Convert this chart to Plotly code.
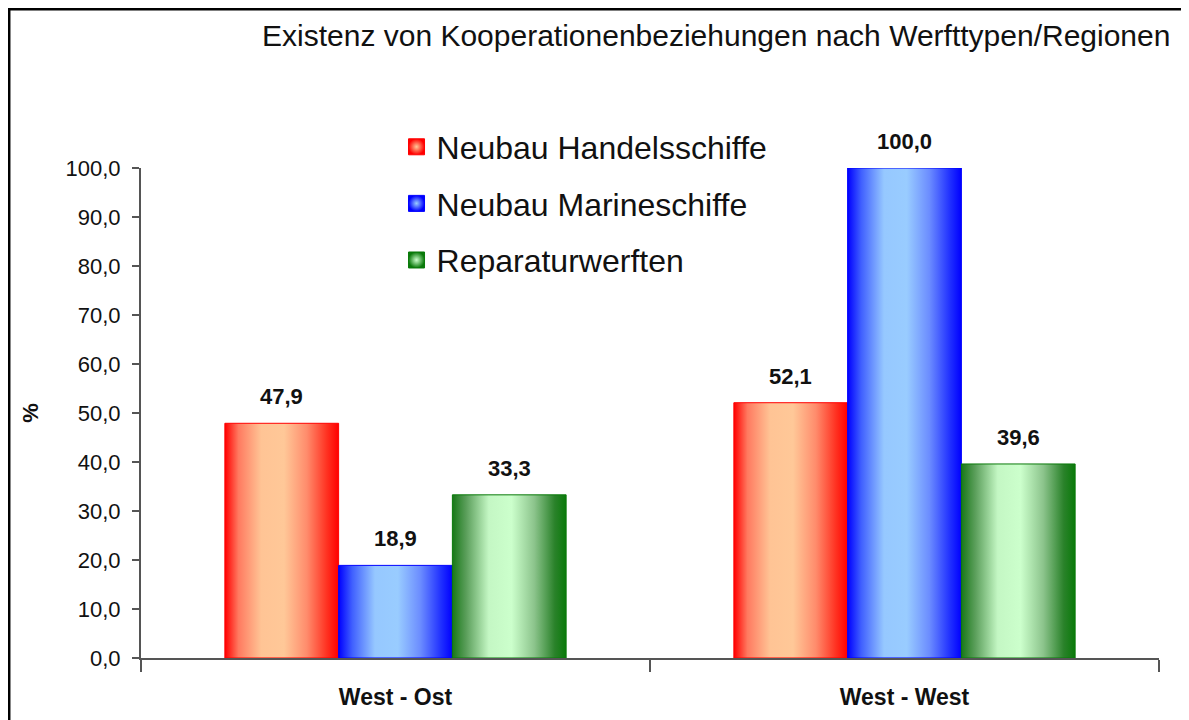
import plotly.graph_objects as go

categories = ["West - Ost", "West - West"]
series_names = ["Neubau Handelsschiffe", "Neubau Marineschiffe", "Reparaturwerften"]
handels = [47.9, 52.1]
marine = [18.9, 100.0]
reparatur = [33.3, 39.6]
values = [handels, marine, reparatur]
y_ticks = [0, 10, 20, 30, 40, 50, 60, 70, 80, 90, 100]

edge_colors = ["#ff0000", "#0000ff", "#0a7a0a"]
center_colors = ["#ffc898", "#99ccff", "#ccffcc"]
gradients = [
    [[0, "#ff0000"], [0.12, "#ff7a60"], [0.32, "#ffc495"], [0.52, "#ffc898"], [0.72, "#ff8c6c"], [0.9, "#ff3020"], [1, "#ff0000"]],
    [[0, "#0000ff"], [0.12, "#4060ff"], [0.32, "#96c8ff"], [0.52, "#99ccff"], [0.72, "#6b8cff"], [0.9, "#2030ff"], [1, "#0000ff"]],
    [[0, "#187818"], [0.12, "#5a9e5a"], [0.32, "#c4f7c4"], [0.52, "#ccffcc"], [0.72, "#8cc48c"], [0.9, "#2a822a"], [1, "#0a7a0a"]],
]

bw = 0.2235
fig = go.Figure()
FONT = "Liberation Sans, Arial, sans-serif"

for j, name in enumerate(series_names):
    for i, cat in enumerate(categories):
        v = values[j][i]
        c = i + (j - 1) * bw
        x0, x1 = c - bw / 2, c + bw / 2
        fig.add_trace(go.Scatter(
            x=[x0, x0, x1, x1, x0], y=[0, v, v, 0, 0],
            mode="lines", fill="toself",
            line=dict(color=edge_colors[j], width=1),
            fillgradient=dict(type="horizontal", colorscale=gradients[j]),
            name=name, legendgroup=name, showlegend=False,
            hoverinfo="skip",
        ))
        fig.add_annotation(
            x=c, y=v, xref="x", yref="y", text=f"<b>{v:.1f}</b>".replace(".", ","),
            showarrow=False, yanchor="bottom", yshift=12,
            font=dict(family=FONT, size=22, color="#111111"),
        )
    # legend entry with a gradient square swatch
    fig.add_trace(go.Scatter(
        x=[None], y=[None], mode="markers", name=name, legendgroup=name,
        marker=dict(symbol="square", size=16, color=edge_colors[j],
                    gradient=dict(type="radial", color=center_colors[j]),
                    line=dict(color=edge_colors[j], width=1)),
        showlegend=True, hoverinfo="skip",
    ))

fig.update_layout(
    width=1181, height=712,
    margin=dict(l=133, r=30, t=160, b=62),
    paper_bgcolor="#ffffff", plot_bgcolor="#ffffff",
    separators=",.",
    font=dict(family=FONT, color="#111111"),
    showlegend=True,
    legend=dict(
        x=0.251, y=1.099, xanchor="left", yanchor="top",
        font=dict(family=FONT, size=32, color="#111111"),
        bgcolor="rgba(0,0,0,0)", tracegroupgap=12,
    ),
    xaxis=dict(
        range=[-0.5, 1.5], tickvals=[0, 1], ticktext=["<b>%s</b>" % c for c in categories],
        ticks="", showgrid=False, zeroline=False, showline=True,
        linecolor="#555555", linewidth=2, automargin=False,
        tickfont=dict(family=FONT, size=23, color="#111111"),
        ticklabelstandoff=17,
        minor=dict(tick0=-0.5, dtick=1, ticks="outside", ticklen=12, tickwidth=2, tickcolor="#555555", showgrid=False),
        fixedrange=True,
    ),
    yaxis=dict(
        range=[0, 100], tickvals=y_ticks, tickformat=".1f",
        ticks="outside", ticklen=7, tickwidth=1.5, tickcolor="#555555",
        showgrid=False, zeroline=False, showline=True,
        linecolor="#555555", linewidth=2, automargin=False,
        tickfont=dict(family=FONT, size=22, color="#111111"),
        ticklabelstandoff=7,
        title=dict(text="<b>%</b>", font=dict(family=FONT, size=22, color="#111111"), standoff=21),
    ),
)

fig.add_annotation(
    xref="paper", yref="paper", x=1.0128, y=1.271, xanchor="right", yanchor="middle",
    text="Existenz von Kooperationenbeziehungen nach Werfttypen/Regionen", showarrow=False,
    font=dict(family=FONT, size=30, color="#111111"),
)

fig.add_shape(
    type="path", xref="paper", yref="paper",
    path="M -0.1297 -0.3 L -0.1297 1.3245 L 1.0255 1.3245 L 1.0255 -0.3",
    line=dict(color="#000000", width=3),
)

fig.write_html("out.html")
